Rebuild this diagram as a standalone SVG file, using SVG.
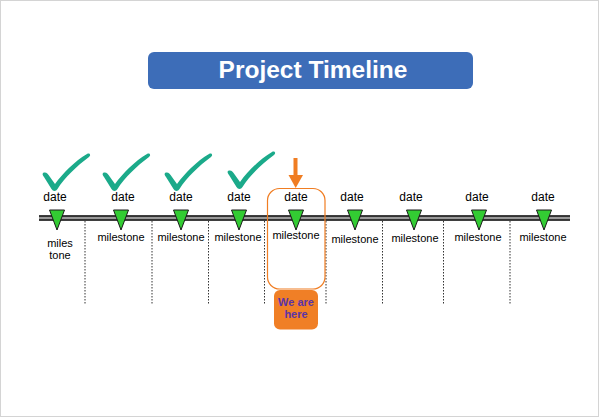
<svg xmlns="http://www.w3.org/2000/svg" width="600" height="418" viewBox="0 0 600 418">
<style>
.date{font-family:"Liberation Sans",Arial,sans-serif;font-size:12px;fill:#000;text-anchor:middle}
.ms{font-family:"Liberation Sans",Arial,sans-serif;font-size:11px;fill:#000;text-anchor:middle}
.dot{stroke:#333;stroke-width:1;stroke-dasharray:1.5,1.5;fill:none}
.tri{fill:#33CC33;stroke:#1a1a1a;stroke-width:1;stroke-linejoin:miter}
.chk{fill:#1BAA8A}
</style>
<defs>
<path id="check" class="chk" d="M0,20 C3,18.5 5,21 7,24 L12,31 C20,20 32,8 44,1 C46.5,-0.5 48.5,2 46,4 C34,13 22,24 14.5,36 C13,38.5 10,38.5 8.5,36 L1,24 C0,23 -1,21 0,20 Z"/>
<path id="tri" class="tri" d="M-7.5,0 L7.5,0 L0,20 Z"/>
</defs>
<rect x="0.5" y="0.5" width="598" height="416" fill="#fff" stroke="#d4d4d4" stroke-width="1"/>
<g id="title">
<rect x="148" y="52" width="325" height="37" rx="6" fill="#3D6DB8"/>
<text x="313" y="78" font-family="Liberation Sans,Arial,sans-serif" font-size="24.5" font-weight="bold" fill="#fff" text-anchor="middle">Project Timeline</text>
</g>
<g id="connectors">
<rect x="39" y="215.5" width="531" height="5" fill="#9a9a9a"/>
<line x1="39" y1="216" x2="570" y2="216" stroke="#111" stroke-width="1.3"/>
<line x1="39" y1="220" x2="570" y2="220" stroke="#111" stroke-width="1.3"/>
<line class="dot" x1="85" y1="221" x2="85" y2="305"/>
<line class="dot" x1="152" y1="221" x2="152" y2="305"/>
<line class="dot" x1="208.5" y1="221" x2="208.5" y2="305"/>
<line class="dot" x1="264.5" y1="221" x2="264.5" y2="305"/>
<line class="dot" x1="326" y1="221" x2="326" y2="305"/>
<line class="dot" x1="382.5" y1="221" x2="382.5" y2="305"/>
<line class="dot" x1="443.5" y1="221" x2="443.5" y2="305"/>
<line class="dot" x1="510" y1="221" x2="510" y2="305"/>
</g>
<g id="current">
<rect x="267.5" y="188.5" width="57.5" height="100.5" rx="12" fill="none" stroke="#F07D22" stroke-width="1.2"/>
<rect x="293.5" y="158" width="4" height="18" fill="#F07D22"/>
<path d="M288.5,175 L303,175 L295.7,188 Z" fill="#F07D22"/>
</g>
<g id="m1"><use href="#check" x="43" y="153"/><text class="date" x="55" y="201">date</text><use href="#tri" x="57" y="210"/><text class="ms" x="60" y="247">miles</text><text class="ms" x="60" y="259">tone</text></g>
<g id="m2"><use href="#check" x="103" y="153"/><text class="date" x="123" y="201">date</text><use href="#tri" x="121" y="210"/><text class="ms" x="121" y="241">milestone</text></g>
<g id="m3"><use href="#check" x="165" y="153"/><text class="date" x="181" y="201">date</text><use href="#tri" x="181" y="210"/><text class="ms" x="181" y="241">milestone</text></g>
<g id="m4"><use href="#check" x="228" y="151"/><text class="date" x="239" y="201">date</text><use href="#tri" x="239" y="210"/><text class="ms" x="238" y="241">milestone</text></g>
<g id="m5"><text class="date" x="296" y="201">date</text><use href="#tri" x="296" y="210"/><text class="ms" x="296" y="239">milestone</text></g>
<g id="m6"><text class="date" x="352" y="201">date</text><use href="#tri" x="355" y="210"/><text class="ms" x="355" y="243">milestone</text></g>
<g id="m7"><text class="date" x="411" y="201">date</text><use href="#tri" x="414" y="210"/><text class="ms" x="415" y="242">milestone</text></g>
<g id="m8"><text class="date" x="477" y="201">date</text><use href="#tri" x="479" y="210"/><text class="ms" x="478" y="241">milestone</text></g>
<g id="m9"><text class="date" x="543" y="201">date</text><use href="#tri" x="544" y="210"/><text class="ms" x="543" y="241">milestone</text></g>
<g id="we-are-here">
<rect x="274" y="290" width="44" height="39.5" rx="6" fill="#F07F26"/>
<text x="296" y="306" font-family="Liberation Sans,Arial,sans-serif" font-size="11" font-weight="bold" fill="#5B34A8" text-anchor="middle">We are</text>
<text x="296" y="317.5" font-family="Liberation Sans,Arial,sans-serif" font-size="11" font-weight="bold" fill="#5B34A8" text-anchor="middle">here</text>
</g>
</svg>
